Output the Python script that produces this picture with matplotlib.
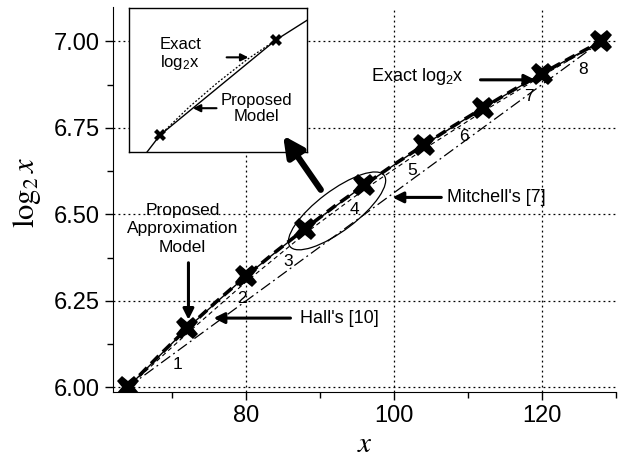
import numpy as np
import matplotlib
matplotlib.use('Agg')
import matplotlib.pyplot as plt
from matplotlib.patches import Ellipse
from matplotlib.transforms import ScaledTranslation

plt.rcParams['font.family'] = ['Liberation Sans', 'DejaVu Sans']
plt.rcParams['mathtext.fontset'] = 'stix'

# sample points (x multiples of 8) and the curves
x_pts = [64, 72, 80, 88, 96, 104, 112, 120, 128]
y_pts = [6.000, 6.170, 6.322, 6.459, 6.585, 6.700, 6.807, 6.907, 7.000]

x_exact = [64, 68, 72, 76, 80, 84, 88, 92, 96, 100, 104, 108, 112, 116, 120, 124, 128]
y_exact = [6.000, 6.087, 6.170, 6.248, 6.322, 6.392, 6.459, 6.524, 6.585,
           6.644, 6.700, 6.755, 6.807, 6.858, 6.907, 6.954, 7.000]

y_hall = [6.000, 6.155, 6.305, 6.445, 6.572, 6.688, 6.797, 6.900, 7.000]

x_mitchell = [64, 128]
y_mitchell = [6.0, 7.0]

seg_labels = ['1', '2', '3', '4', '5', '6', '7', '8']
seg_x = [70.7, 79.5, 85.7, 94.6, 102.5, 109.5, 118.3, 125.6]
seg_y = [6.065, 6.258, 6.363, 6.513, 6.628, 6.725, 6.840, 6.919]

# inset (zoomed segment, schematic)
ins_model_x = [87.1, 88, 96, 98.14]
ins_model_y = [6.4365, 6.459, 6.585, 6.611]
ins_exact_x = [88, 90, 92, 94, 96]
ins_exact_y = [6.459, 6.496, 6.529, 6.559, 6.585]
ins_mark_x = [88, 96]
ins_mark_y = [6.459, 6.585]

fig = plt.figure(figsize=(6.29, 4.57), dpi=100)
ax = fig.add_axes([0.1797, 0.142, 0.7993, 0.843])

ax.plot(x_mitchell, y_mitchell, color='black', lw=0.9, dashes=(9, 3, 1.5, 3))
ax.plot(x_pts, y_hall, color='black', lw=0.8, dashes=(4, 3))
ax.plot(x_pts, y_pts, color='black', lw=1.0)
ax.plot(x_exact, y_exact, color='black', lw=2.6, dashes=(3, 1.6))
ax.plot(x_pts, y_pts, linestyle='none', marker='X', markersize=16,
        color='black', markeredgewidth=0)

ax.set_xlim(62, 130)
ax.set_ylim(5.986, 7.10)
ax.set_xticks([80, 100, 120])
ax.set_xticks([70, 90, 110, 130], minor=True)
ax.set_yticks([6.0, 6.25, 6.5, 6.75, 7.0])
ax.set_yticks([6.125, 6.375, 6.625, 6.875], minor=True)
ax.set_yticklabels(['6.00', '6.25', '6.50', '6.75', '7.00'])
ax.tick_params(which='both', direction='out', labelsize=17, width=1)
ax.tick_params(which='major', length=6)
ax.tick_params(which='minor', length=4)
ax.grid(True, which='major', linestyle=(0, (1.5, 2.5)), color='black', lw=0.9)
for s in ['top', 'right']:
    ax.spines[s].set_visible(False)

ax.set_xlabel('$x$', fontsize=21, labelpad=2)
ax.set_ylabel(r'$\log_2 x$', fontsize=22)
ax.yaxis.set_label_coords(-0.140, 0.517)

for lab, sx, sy in zip(seg_labels, seg_x, seg_y):
    ax.text(sx, sy, lab, fontsize=12.5, ha='center', va='center')

arrow = dict(arrowstyle='-|>', color='black', lw=2.2, mutation_scale=16,
             shrinkA=0, shrinkB=0)
ax.annotate('', xy=(119.1, 6.889), xytext=(111.7, 6.889), arrowprops=arrow)
ax.text(109.4, 6.90, r'Exact log$\mathregular{_2}$x', fontsize=13,
        ha='right', va='center')
ax.annotate('', xy=(99.8, 6.549), xytext=(106.4, 6.549), arrowprops=arrow)
ax.text(107.2, 6.549, "Mitchell's [7]", fontsize=13, ha='left', va='center')
ax.annotate('', xy=(75.6, 6.20), xytext=(86.0, 6.20), arrowprops=arrow)
ax.text(87.3, 6.20, "Hall's [10]", fontsize=13, ha='left', va='center')
ax.annotate('', xy=(72.2, 6.195), xytext=(72.2, 6.36), arrowprops=arrow)
ax.text(71.4, 6.458, 'Proposed\nApproximation\nModel', fontsize=12.5,
        ha='center', va='center', linespacing=1.3)

# ellipse around segment 4 (size in inches, centred in data coords)
ell = Ellipse((0, 0), 1.18, 0.40, angle=37, fill=False, edgecolor='black', lw=0.9,
              transform=fig.dpi_scale_trans + ScaledTranslation(92.3, 6.510, ax.transData))
ax.add_patch(ell)

# inset
axi = fig.add_axes([0.205, 0.667, 0.283, 0.315])
axi.plot(ins_model_x, ins_model_y, color='black', lw=1.0)
axi.plot(ins_exact_x, ins_exact_y, color='black', lw=0.9, linestyle=(0, (1.5, 1.5)))
axi.plot(ins_mark_x, ins_mark_y, linestyle='none', marker='X', markersize=8,
         color='black', markeredgewidth=0)
axi.set_xlim(85.86, 98.14)
axi.set_ylim(6.4365, 6.627)
axi.set_xticks([])
axi.set_yticks([])
for s in axi.spines.values():
    s.set_linewidth(1.0)
axi.text(88.0, 6.566, 'Exact\n' + r'log$\mathregular{_2}$x', fontsize=12,
         ha='left', va='center', linespacing=1.1)
axi.annotate('', xy=(94.1, 6.562), xytext=(92.6, 6.562),
             arrowprops=dict(arrowstyle='-|>', color='black', lw=1.5,
                             mutation_scale=11, shrinkA=0, shrinkB=0))
axi.text(94.67, 6.4947, 'Proposed\nModel', fontsize=12, ha='center', va='center',
         linespacing=1.1)
axi.annotate('', xy=(90.27, 6.4947), xytext=(91.9, 6.4947),
             arrowprops=dict(arrowstyle='-|>', color='black', lw=1.5,
                             mutation_scale=11, shrinkA=0, shrinkB=0))

# big arrow from the ellipse to the inset, drawn on top of the inset
axi.annotate('', xy=(85.0, 6.728), xycoords=ax.transData,
             xytext=(90.1, 6.571), textcoords=ax.transData,
             annotation_clip=False,
             arrowprops=dict(arrowstyle='-|>', color='black', lw=4.5,
                             mutation_scale=30, shrinkA=0, shrinkB=0,
                             clip_on=False))

fig.savefig('out.png', dpi=100)
